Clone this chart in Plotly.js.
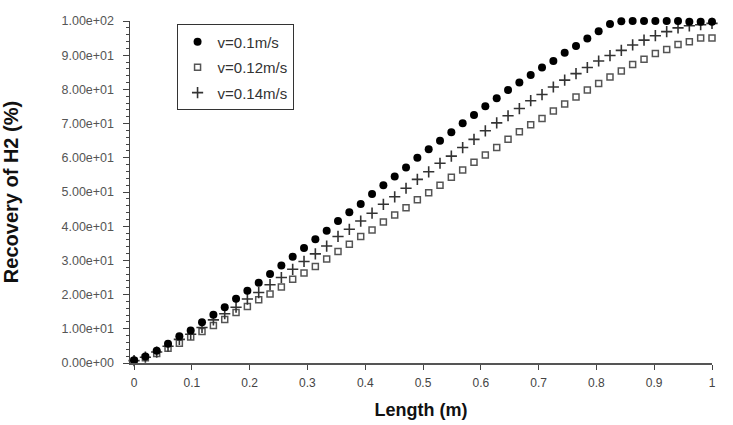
<!DOCTYPE html>
<html>
<head>
<meta charset="utf-8">
<script src="https://cdn.plot.ly/plotly-3.0.1.min.js"></script>
<style>html,body{margin:0;padding:0;background:#fff;}#chart{width:733px;height:425px;}</style>
</head>
<body>
<div id="chart"></div>
<script>
// Length (m) positions of the computed points
const lengthM = [0, 0.0196, 0.0392, 0.0588, 0.0784, 0.098, 0.1176, 0.1373, 0.1569, 0.1765,
  0.1961, 0.2157, 0.2353, 0.2549, 0.2745, 0.2941, 0.3137, 0.3333, 0.3529, 0.3725,
  0.3922, 0.4118, 0.4314, 0.451, 0.4706, 0.4902, 0.5098, 0.5294, 0.549, 0.5686,
  0.5882, 0.6078, 0.6275, 0.6471, 0.6667, 0.6863, 0.7059, 0.7255, 0.7451, 0.7647,
  0.7843, 0.8039, 0.8235, 0.8431, 0.8627, 0.8824, 0.902, 0.9216, 0.9412, 0.9608,
  0.9804, 1];

// Recovery of H2 (%) for v = 0.1 m/s
const rec_v010 = [0.8, 1.9, 3.6, 5.6, 7.8, 9.5, 11.9, 14.1, 16.3, 18.8,
  21.1, 23.5, 26.0, 28.5, 31.1, 33.6, 36.2, 38.7, 41.5, 44.1,
  46.5, 49.4, 52.0, 54.5, 57.2, 60.0, 62.5, 65.0, 67.5, 70.1,
  72.5, 75.1, 77.4, 79.8, 82.0, 84.2, 86.4, 88.3, 90.7, 92.7,
  94.9, 97.0, 99.1, 99.9, 100, 100, 100, 100, 100, 99.8,
  99.8, 99.8];

// Recovery of H2 (%) for v = 0.12 m/s
const rec_v012 = [0.5, 1.5, 2.8, 4.3, 5.8, 7.6, 9.2, 11.0, 12.7, 14.8,
  16.5, 18.5, 20.2, 22.2, 24.5, 26.3, 28.2, 30.4, 32.6, 34.7,
  37.0, 38.9, 41.2, 43.3, 45.4, 47.7, 49.8, 52.0, 54.3, 56.4,
  58.7, 60.8, 63.0, 65.4, 67.6, 69.7, 71.5, 73.7, 75.7, 77.8,
  79.8, 81.7, 83.6, 85.4, 87.3, 88.8, 90.5, 91.7, 93.1, 93.9,
  95.0, 95.0];

// Recovery of H2 (%) for v = 0.14 m/s
const rec_v014 = [0.7, 1.7, 3.2, 4.9, 6.9, 8.4, 10.4, 12.6, 14.4, 16.3,
  18.7, 20.6, 22.9, 25.0, 27.4, 29.7, 31.9, 34.2, 37.0, 39.1,
  41.5, 43.8, 46.4, 48.6, 51.1, 53.7, 55.9, 58.4, 60.5, 63.0,
  65.4, 67.9, 70.2, 72.3, 74.4, 76.7, 78.5, 80.7, 82.7, 84.6,
  86.4, 88.3, 89.9, 91.4, 93.0, 94.4, 95.7, 96.9, 98.0, 98.6,
  98.9, 99.3];

const seriesNames = ['v=0.1m/s', 'v=0.12m/s', 'v=0.14m/s'];

const yTickVals = [0, 10, 20, 30, 40, 50, 60, 70, 80, 90, 100];
const yTickText = ['0.00e+00', '1.00e+01', '2.00e+01', '3.00e+01', '4.00e+01', '5.00e+01',
  '6.00e+01', '7.00e+01', '8.00e+01', '9.00e+01', '1.00e+02'];
const xTickVals = [0, 0.1, 0.2, 0.3, 0.4, 0.5, 0.6, 0.7, 0.8, 0.9, 1];
const xTickText = ['0', '0.1', '0.2', '0.3', '0.4', '0.5', '0.6', '0.7', '0.8', '0.9', '1'];

const FONT = 'Liberation Sans, Arial, sans-serif';

const traces = [
  {
    x: lengthM, y: rec_v012, name: seriesNames[1], type: 'scatter', mode: 'markers',
    legendgroup: 'b', legendrank: 2, cliponaxis: false,
    marker: {symbol: 'square-open', size: 6, color: '#555', line: {width: 1.5, color: '#555'}}
  },
  {
    x: lengthM, y: rec_v014, name: seriesNames[2], type: 'scatter', mode: 'markers',
    legendgroup: 'c', legendrank: 3, cliponaxis: false,
    marker: {symbol: 'cross-thin-open', size: 8, color: '#333', line: {width: 1.6, color: '#333'}}
  },
  {
    x: lengthM, y: rec_v010, name: seriesNames[0], type: 'scatter', mode: 'markers',
    legendgroup: 'a', legendrank: 1, cliponaxis: false,
    marker: {symbol: 'circle', size: 8, color: '#000'}
  }
];

const layout = {
  width: 733, height: 425,
  margin: {l: 130, r: 21, t: 21, b: 62, pad: 0},
  paper_bgcolor: '#fff', plot_bgcolor: '#fff',
  font: {family: FONT, color: '#444', size: 13},
  showlegend: true,
  legend: {
    x: 0.08, y: 0.99, xanchor: 'left', yanchor: 'top',
    bgcolor: '#fff', bordercolor: '#333', borderwidth: 1,
    font: {family: FONT, size: 15, color: '#333'},
    traceorder: 'grouped', tracegroupgap: 3
  },
  xaxis: {
    range: [-0.007, 1.0], autorange: false,
    tickvals: xTickVals, ticktext: xTickText,
    ticks: 'outside', ticklen: 5, tickcolor: '#444', tickwidth: 1,
    ticklabelstandoff: 3,
    showline: true, linecolor: '#555', linewidth: 1.5,
    showgrid: false, zeroline: false,
    tickfont: {family: FONT, size: 12, color: '#444'},
    title: {text: 'Length (m)', font: {family: FONT, size: 18, color: '#111', weight: 'bold'}, standoff: 14}
  },
  yaxis: {
    range: [0, 100], autorange: false,
    tickvals: yTickVals, ticktext: yTickText,
    ticks: 'outside', ticklen: 6, tickcolor: '#444', tickwidth: 1,
    minor: {ticks: 'outside', ticklen: 3, dtick: 2, tickcolor: '#444', tickwidth: 1},
    ticklabelstandoff: 6,
    showline: true, linecolor: '#444', linewidth: 1.5,
    showgrid: false, zeroline: false,
    tickfont: {family: FONT, size: 12.5, color: '#555'},
    title: {text: 'Recovery of H2 (%)', font: {family: FONT, size: 20, color: '#111', weight: 'bold'}, standoff: 40}
  }
};

Plotly.newPlot('chart', traces, layout, {staticPlot: true, displayModeBar: false});
</script>
</body>
</html>
